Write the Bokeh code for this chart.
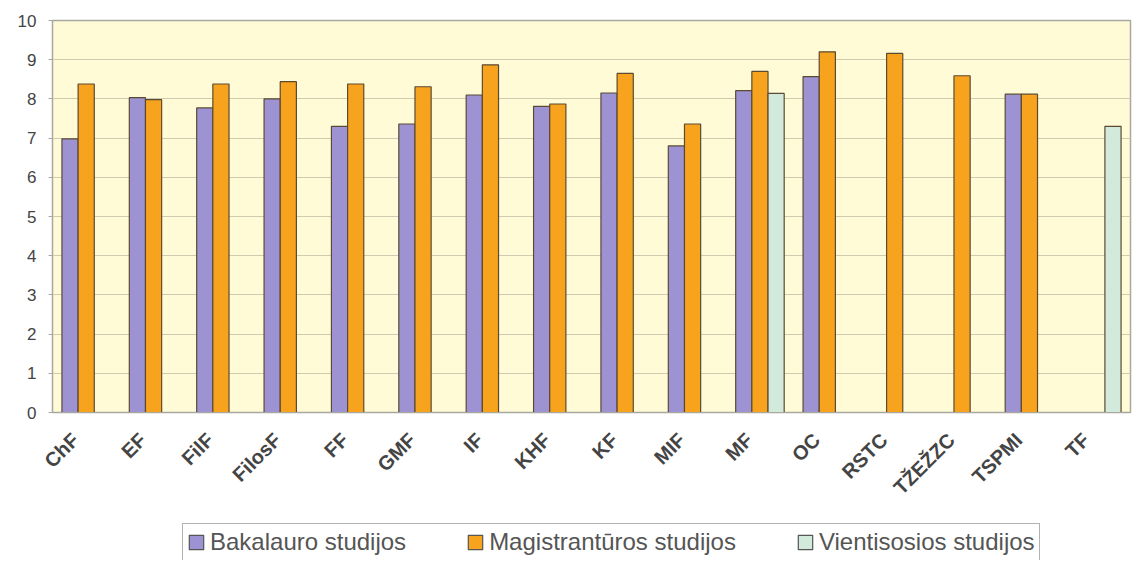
import math
from bokeh.plotting import figure
from bokeh.models import (ColumnDataSource, Range1d, Legend, LegendItem, FixedTicker)
from bokeh.layouts import column
from bokeh.embed import file_html
from bokeh.resources import INLINE

faculties = ["ChF", "EF", "FilF", "FilosF", "FF", "GMF", "IF", "KHF", "KF", "MIF",
             "MF", "OC", "RSTC", "TŽEŽZC", "TSPMI", "TF"]
bakalauro = [6.98, 8.03, 7.77, 8.00, 7.30, 7.36, 8.10, 7.81, 8.15, 6.80,
             8.21, 8.57, None, None, 8.12, None]
magistranturos = [8.38, 7.98, 8.38, 8.44, 8.38, 8.31, 8.87, 7.87, 8.65, 7.36,
                  8.70, 9.20, 9.16, 8.59, 8.12, None]
vientisosios = [None, None, None, None, None, None, None, None, None, None,
                8.14, None, None, None, None, 7.30]
series_names = ["Bakalauro studijos", "Magistrantūros studijos", "Vientisosios studijos"]
y_ticks = [0, 1, 2, 3, 4, 5, 6, 7, 8, 9, 10]

colors = ["#9d93d3", "#f7a31e", "#d2eadc"]
outline = "#5b4a33"
FONT = "Liberation Sans"
W = 1132
n = len(faculties)

p = figure(x_range=Range1d(0, n), y_range=Range1d(0, 10),
           width=W, height=518, output_backend="svg", toolbar_location=None,
           min_border_top=20, min_border_left=52, min_border_right=2, min_border_bottom=106)
p.background_fill_color = "#fffbd6"
p.border_fill_color = "white"
p.outline_line_color = "#a8a8a0"
p.outline_line_width = 1.5

# category slots: slot i spans [i, i+1]; bars are dodged around the slot centre
offsets = [-0.24, 0.0, 0.24]
all_series = [bakalauro, magistranturos, vientisosios]
sources = []
for name, vals, off, col in zip(series_names, all_series, offsets, colors):
    xs = [i + 0.5 + off for i, v in enumerate(vals) if v is not None]
    ys = [v for v in vals if v is not None]
    src = ColumnDataSource(data=dict(x=xs, top=ys))
    sources.append(src)
    p.vbar(x="x", top="top", bottom=0, width=0.24,
           source=src, fill_color=col, line_color=outline, line_width=1.2)

p.xgrid.grid_line_color = None
p.ygrid.grid_line_color = "#cfcbb0"
p.ygrid.grid_line_width = 1.2

p.yaxis.ticker = FixedTicker(ticks=y_ticks)
p.yaxis.major_label_text_font = FONT
p.yaxis.major_label_text_font_size = "17px"
p.yaxis.major_label_text_color = "#444444"
p.yaxis.axis_line_color = "#a8a8a0"
p.yaxis.major_tick_line_color = "#a8a8a0"
p.yaxis.major_tick_out = 4
p.yaxis.major_tick_in = 0
p.yaxis.minor_tick_line_color = None
p.yaxis.major_label_standoff = 12

# category labels, slightly left of each slot centre (as in the reference)
label_pos = [i + 0.5 - 0.16 for i in range(n)]
xa = p.xaxis[0]
xa.ticker = FixedTicker(ticks=label_pos)
xa.major_label_overrides = {pos: f for pos, f in zip(label_pos, faculties)}
xa.major_label_orientation = math.pi / 4
xa.major_label_text_font = FONT
xa.major_label_text_font_size = "20px"
xa.major_label_text_font_style = "bold"
xa.major_label_text_color = "#444444"
xa.axis_line_color = "#a8a8a0"
xa.major_tick_line_color = None
xa.minor_tick_line_color = None
xa.major_tick_out = 0
xa.major_tick_in = 0
xa.major_label_standoff = 24

# legend strip (its renderers share the sources but sit far outside its y range)
p2 = figure(width=W, height=42, x_range=Range1d(0, 1), y_range=Range1d(100, 101),
            output_backend="svg", toolbar_location=None,
            x_axis_location=None, y_axis_location=None, min_border=0)
p2.grid.visible = False
p2.outline_line_color = None
p2.background_fill_color = "white"
items = []
for name, col, src in zip(series_names, colors, sources):
    r = p2.vbar(x="x", top="top", bottom=0, width=0.01, source=src,
                fill_color=col, line_color="#555555", line_width=1.2)
    items.append(LegendItem(label=name, renderers=[r]))
legend = Legend(items=items, orientation="horizontal", location=(130, -1))
legend.label_text_font = FONT
legend.label_text_font_size = "24px"
legend.label_text_color = "#555555"
legend.glyph_width = 18
legend.glyph_height = 18
legend.label_standoff = 5
legend.spacing = 60
legend.padding = 4
legend.margin = 0
legend.border_line_color = "#666666"
legend.border_line_width = 1
legend.background_fill_color = "white"
legend.background_fill_alpha = 1
p2.add_layout(legend, "center")

layout = column(p, p2, spacing=0)
open("out.html", "w").write(file_html(layout, INLINE))
